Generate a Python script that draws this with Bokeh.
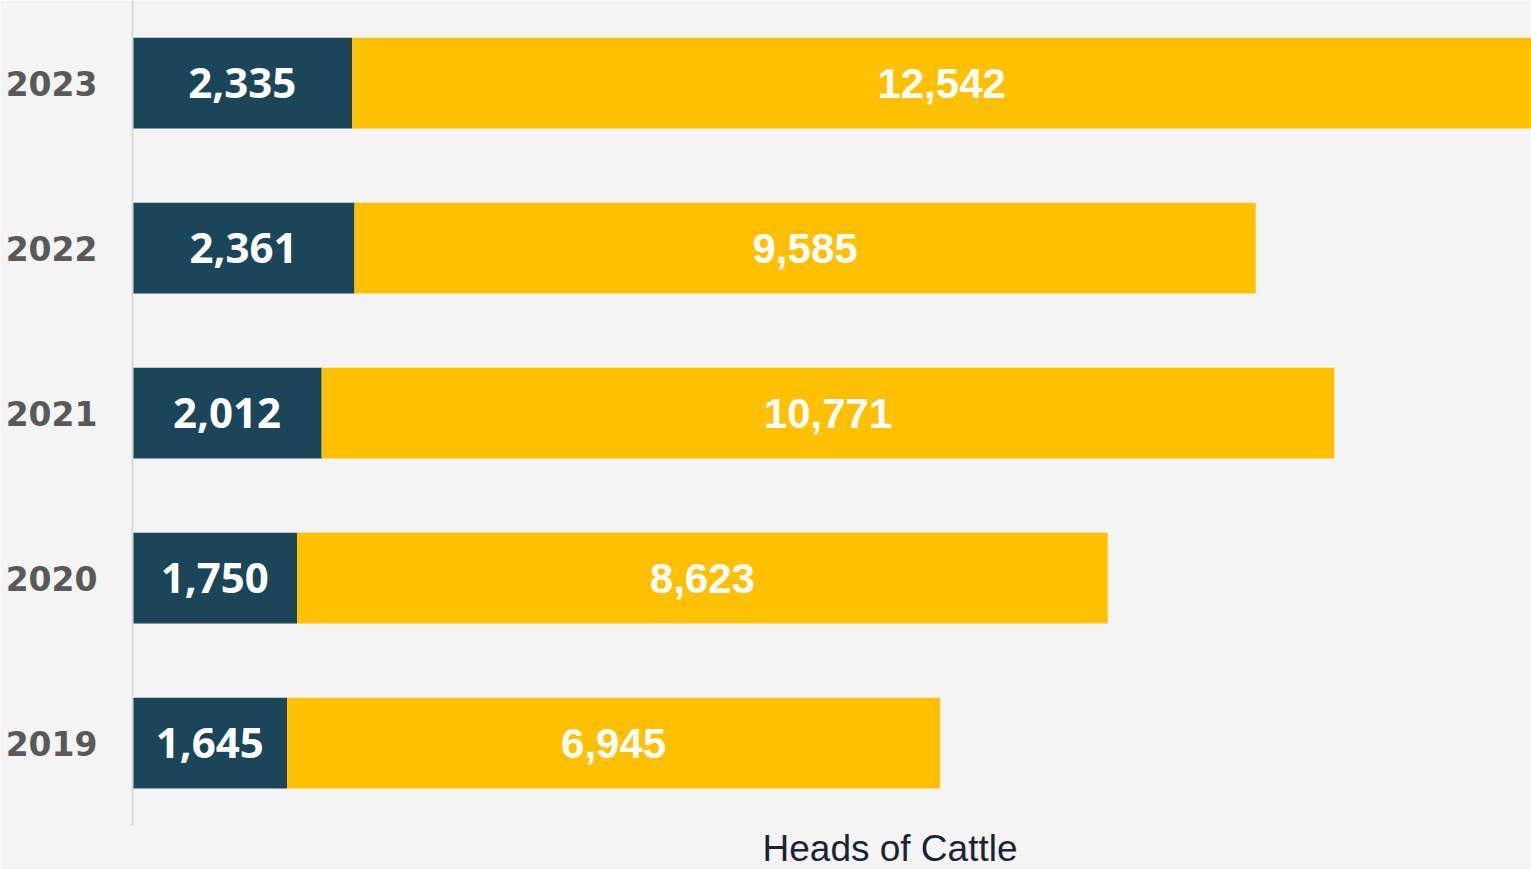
from bokeh.plotting import figure
from bokeh.models import ColumnDataSource, Range1d, FixedTicker, Title
from bokeh.core.properties import value
from bokeh.embed import file_html
from bokeh.resources import INLINE

# ---- data ----
years = ["2019", "2020", "2021", "2022", "2023"]
dark_values = [1645, 1750, 2012, 2361, 2335]
yellow_values = [6945, 8623, 10771, 9585, 12542]
x_title = "Heads of Cattle"

DARK = "#1b4558"
YELLOW = "#ffc000"
BG = "#f4f4f4"

pos = list(range(len(years)))
totals = [d + y for d, y in zip(dark_values, yellow_values)]
src = ColumnDataSource(dict(
    y=pos,
    dark=dark_values,
    yellow=yellow_values,
    total=totals,
    dark_mid=[d / 2 for d in dark_values],
    yellow_mid=[d + y / 2 for d, y in zip(dark_values, yellow_values)],
    dark_txt=[f"{d:,}" for d in dark_values],
    yellow_txt=[f"{y:,}" for y in yellow_values],
))

p = figure(width=1531, height=869, output_backend="svg", toolbar_location=None,
           x_range=Range1d(0, 14880), y_range=Range1d(-0.5, 4.5),
           min_border_left=132, min_border_right=0, min_border_top=0, min_border_bottom=44)
p.background_fill_color = BG
p.border_fill_color = BG
p.outline_line_color = None
p.grid.visible = False

p.hbar(y="y", left=0, right="dark", height=0.55, source=src, color=DARK, line_color=None)
p.hbar(y="y", left="dark", right="total", height=0.55, source=src, color=YELLOW, line_color=None)

p.text(x="dark_mid", y="y", text="dark_txt", source=src, text_color="white",
       text_font=value("Open Sans"), text_font_style="bold", text_font_size="42px",
       text_align="center", text_baseline="middle")
p.text(x="yellow_mid", y="y", text="yellow_txt", source=src, text_color="white",
       text_font=value("Liberation Sans"), text_font_style="bold", text_font_size="42px",
       text_align="center", text_baseline="middle")

p.xaxis.visible = False

ya = p.yaxis[0]
ya.ticker = FixedTicker(ticks=pos)
ya.major_label_overrides = {i: yr for i, yr in zip(pos, years)}
ya.major_tick_line_color = None
ya.minor_tick_line_color = None
ya.major_tick_out = 0
ya.major_tick_in = 0
ya.major_label_standoff = 35
ya.axis_line_color = "#d9d9d9"
ya.axis_line_width = 2
ya.major_label_text_font = "DejaVu Sans"
ya.major_label_text_font_style = "bold"
ya.major_label_text_font_size = "33px"
ya.major_label_text_color = "#595959"

p.add_layout(Title(text=x_title, align="left", offset=630, standoff=0,
                   text_font="Liberation Sans", text_font_style="normal",
                   text_font_size="37px", text_color="#1a2533"), "below")

open("out.html", "w").write(file_html(p, INLINE))
